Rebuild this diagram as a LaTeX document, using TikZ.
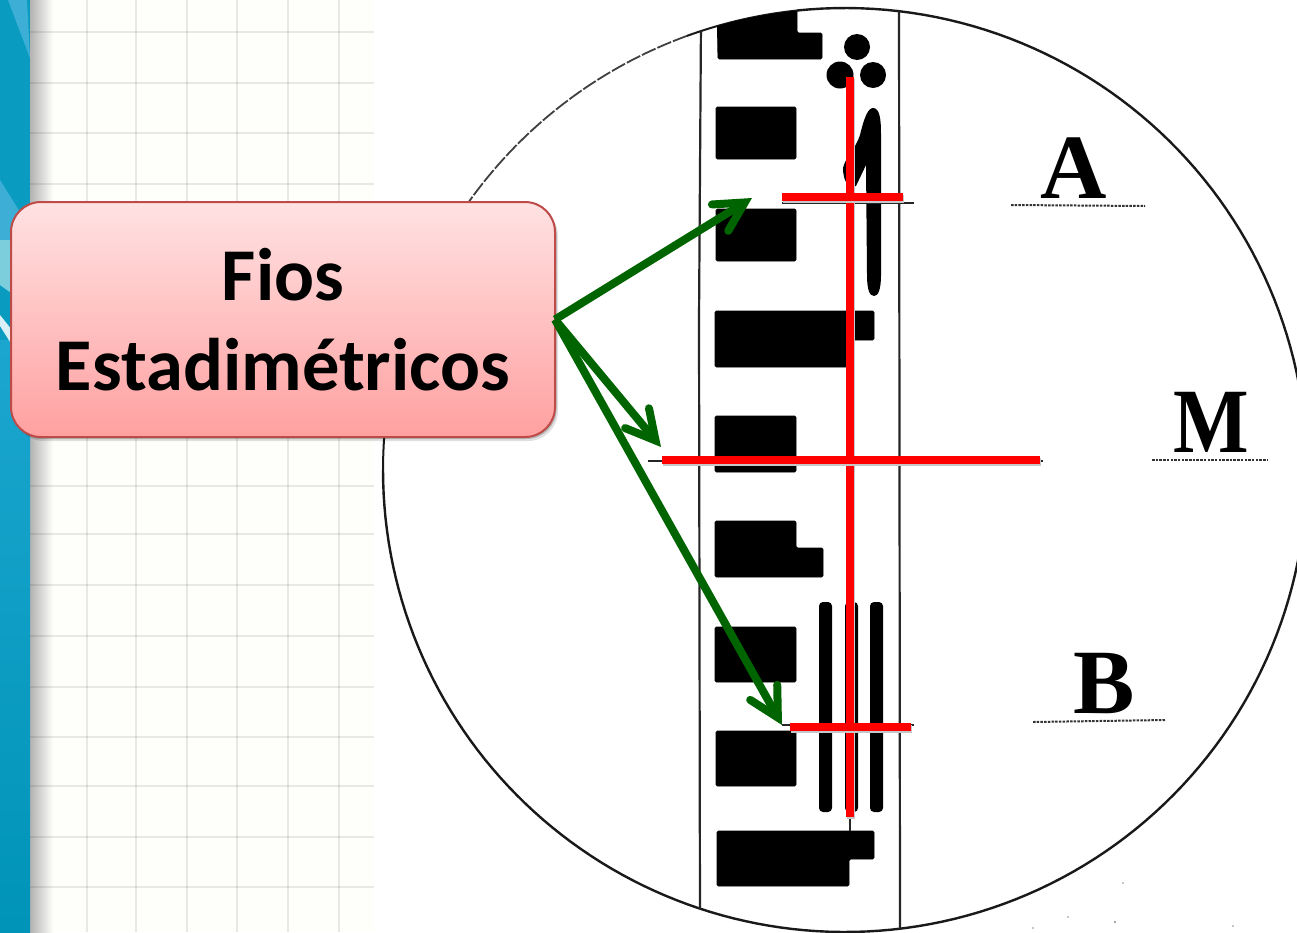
\documentclass[tikz,border=0pt]{standalone}
\usepackage{fontspec}
\setmainfont{Liberation Serif}
\newfontfamily\boxfont{Carlito}[BoldFont={Carlito Bold}]
\usetikzlibrary{arrows.meta,shadows}
\definecolor{paper}{HTML}{FEFFFB}
\definecolor{teal1}{HTML}{0A9CC0}
\definecolor{teal2}{HTML}{1BA6CF}
\definecolor{teal3}{HTML}{0094B8}
\definecolor{lightb}{HTML}{3DAFD6}
\definecolor{paleb}{HTML}{7CCEDD}
\definecolor{boxtop}{HTML}{FFE2E3}
\definecolor{boxbot}{HTML}{FFA0A0}
\definecolor{boxedge}{HTML}{BE4B48}
\definecolor{wire}{HTML}{FF0000}
\definecolor{arrowc}{HTML}{006400}
\definecolor{scan}{HTML}{000000}
\tikzset{
  x=1pt,y=-1pt,
  gridline/.style={draw=black,draw opacity=.085,line width=1.6pt},
  block/.style={fill=scan,draw=scan,line width=.8pt,rounded corners=1.5pt},
  bar/.style={fill=scan,rounded corners=4pt},
  rim/.style={draw=black!90,line width=2.4pt},
  thinrim/.style={draw=black!75,line width=1.8pt,dash pattern=on 15pt off 2pt},
  railline/.style={draw=black!85,line width=2.2pt},
  hair/.style={draw=black!85,line width=2.2pt},
  dotted rule/.style={draw=black!80,line width=2pt,dash pattern=on 2.5pt off 1.2pt},
  redwire/.style={draw=wire,line width=8.5pt,preaction={draw=black!22,line width=8.5pt,transform canvas={shift={(1pt,-2pt)}}}},
  greenarrow/.style={draw=arrowc,line width=8pt,line join=miter,
    -{Straight Barb[length=29pt,width=31pt,line cap=round,line join=miter]},
    preaction={draw=black!15,transform canvas={shift={(1pt,-2pt)}}}},
  letter/.style={font=\fontsize{92}{92}\selectfont\bfseries,inner sep=0pt,anchor=base,text=black},
  callout/.style={rounded corners=30pt,draw=boxedge,line width=2pt,top color=boxtop,bottom color=boxbot,
    minimum width=544pt,minimum height=235pt,inner sep=0pt,outer sep=0pt,align=center,
    font=\boxfont\bfseries\fontsize{74.5}{90}\selectfont,text=black,
    drop shadow={shadow xshift=3pt,shadow yshift=-4pt,opacity=.12,fill=black},
    drop shadow={shadow xshift=1.5pt,shadow yshift=-2pt,opacity=.2,fill=black}}
}
\begin{document}
\begin{tikzpicture}
\useasboundingbox (0,0) rectangle (1297,932);
\fill[white] (0,0) rectangle (1297,932);
% note pane
\fill[paper] (30,0) rectangle (374,932);
\shade[left color=black!30,right color=paper,draw=none] (30,0) rectangle (53,932);
\foreach \gx in {87,136,187,237,288,339} \draw[gridline] (\gx,0) -- (\gx,932);
\foreach \gy in {32,83,133,184,235,285,335,385,435,486,534,585,636,687,737,786,837,887} \draw[gridline] (30,\gy) -- (374,\gy);
% left strip
\fill[teal1] (0,0) rectangle (30,470);
\shade[top color=teal2,bottom color=teal3] (0,340) rectangle (30,932);
\fill[lightb] (8,0) -- (27,0) -- (30,58) -- cycle;
\fill[lightb] (0,180) -- (20,212) -- (14,240) -- (0,240) -- cycle;
\fill[paleb] (0,240) -- (14,240) -- (14,295) -- (0,285) -- cycle;
\fill[white!85!teal1] (0,315) -- (12,330) -- (12,345) -- (0,326) -- cycle;
% field of view
\draw[rim] plot[domain=96:-92,samples=120] ({845+462*cos(\x)},{470-462*sin(\x)});
\draw[rim] plot[domain=180:268,samples=60] ({845+462*cos(\x)},{470-462*sin(\x)});
\draw[thinrim] plot[domain=110:150,samples=40] ({845+462*cos(\x)},{470-462*sin(\x)});
\draw[rim,line width=2pt] plot[domain=96:110,samples=20] ({845+462*cos(\x)},{470-462*sin(\x)});
\draw[rim,line width=2pt] plot[domain=165:180,samples=20] ({845+462*cos(\x)},{470-462*sin(\x)});
\begin{scope}
\clip (845,470) circle[radius=462pt];
\draw[railline] (701,20) -- (699,320) -- (700,932);
\draw[railline] (899,0) -- (900,932);
\fill[block] (717,0) -- (797,0) -- (797,33) -- (822,33) -- (822,59) -- (718,59) -- cycle;
\end{scope}
% staff blocks
\fill[block] (716,107) rectangle (796,159);
\fill[block] (716,209) rectangle (796,261);
\fill[block] (715,311) -- (874,311) -- (874,340) -- (850,340) -- (850,367) -- (715,367) -- cycle;
\fill[block] (715,416) rectangle (796,472);
\fill[block] (715,521) -- (796,521) -- (796,548) -- (823,548) -- (823,577) -- (715,577) -- cycle;
\fill[block] (715,627) rectangle (796,682);
\fill[block] (716,731) rectangle (796,786);
\fill[block] (717,831) -- (874,831) -- (874,859) -- (849,859) -- (849,886) -- (717,886) -- cycle;
% numerals on staff
\fill[scan] (857,47) circle[radius=13pt];
\fill[scan] (840,75) circle[radius=13.5pt];
\fill[scan] (873,75) circle[radius=13pt];
\fill[scan] (873,108) .. controls (880,108) and (881,120) .. (881,135) -- (881,275)
  .. controls (881,290) and (878,296) .. (874,296) .. controls (869,296) and (867,288) .. (867,275)
  -- (866,165) -- (856,186) .. controls (848,190) and (843,180) .. (843,168)
  .. controls (845,158) and (855,150) .. (860,135) .. controls (864,118) and (868,108) .. (873,108) -- cycle;
\fill[bar] (819,602) rectangle (832,812);
\fill[bar] (845,602) rectangle (858,812);
\fill[bar] (870,602) rectangle (883,812);
% original hairlines
\draw[hair] (782,203) -- (914,203);
\draw[hair] (648,461) -- (1043,461);
\draw[hair] (782,725) -- (914,725);
\draw[hair] (850,812) -- (850,831);
% labels
\node[letter] (labA) at (1074,198) {A};
\node[letter] (labM) at (1211,452) {\scalebox{.87}[1]{M}};
\node[letter] (labB) at (1104,713) {B};
\draw[dotted rule] (1011,205) -- (1145,206);
\draw[dotted rule] (1152,460) -- (1268,460);
\draw[dotted rule] (1033,722) -- (1165,720);
% specks
\fill[black!45] (1115,922) circle[radius=1.2pt] (1233,926) circle[radius=.9pt] (1123,883) circle[radius=.9pt] (1068,917) circle[radius=.9pt] (1033,928) circle[radius=.8pt];
% red wires
\draw[redwire] (850,77) -- (850,817);
\draw[redwire] (782,197) -- (903,197);
\draw[redwire] (662,460) -- (1040,460);
\draw[redwire] (790,727) -- (911,727);
% callout
\node[callout] (box) at (283,319.5) {Fios\\Estadimétricos};
\coordinate (tipA) at (752,198);
\coordinate (tipM) at (661,447);
\coordinate (tipB) at (782,725);
\draw[greenarrow] (box.east) -- (tipA);
\draw[greenarrow] (box.east) -- (tipM);
\draw[greenarrow] (box.east) -- (tipB);
\end{tikzpicture}
\end{document}
